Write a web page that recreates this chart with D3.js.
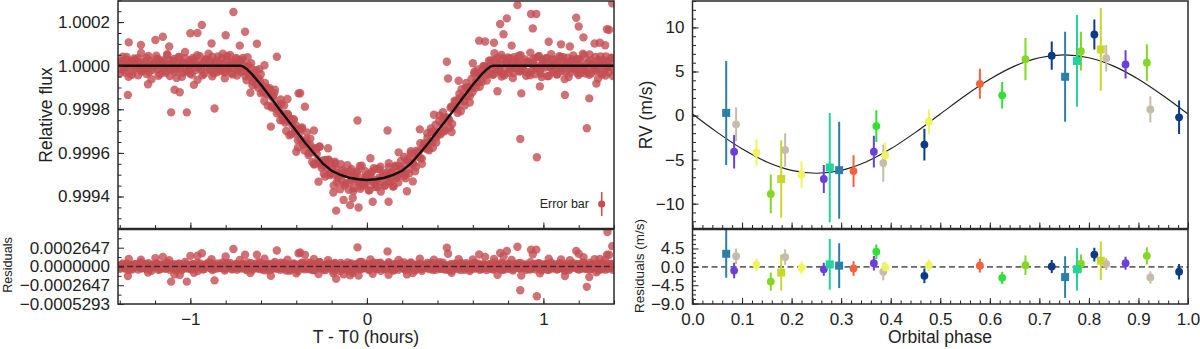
<!DOCTYPE html>
<html>
<head>
<meta charset="utf-8">
<script src="https://cdn.jsdelivr.net/npm/d3@7"></script>
<style>
  body { margin: 0; background: #fff; }
  svg { display: block; font-family: "Liberation Sans", Arial, sans-serif; }
</style>
</head>
<body>
<script>
// ---- transit light curve (time in hours from T0, residuals in ppm) ----
let lcTime = [
  -1.405,-1.398,-1.389,-1.383,-1.375,-1.365,-1.358,-1.350,-1.344,-1.335,
  -1.327,-1.318,-1.312,-1.303,-1.296,-1.289,-1.279,-1.273,-1.264,-1.256,
  -1.249,-1.243,-1.235,-1.226,-1.220,-1.210,-1.204,-1.193,-1.187,-1.180,
  -1.171,-1.164,-1.155,-1.149,-1.141,-1.131,-1.124,-1.116,-1.110,-1.101,
  -1.093,-1.084,-1.078,-1.069,-1.062,-1.055,-1.045,-1.039,-1.030,-1.022,
  -1.015,-1.009,-1.001,-0.992,-0.986,-0.976,-0.970,-0.959,-0.953,-0.946,
  -0.937,-0.930,-0.921,-0.915,-0.907,-0.897,-0.890,-0.882,-0.876,-0.867,
  -0.859,-0.850,-0.844,-0.835,-0.828,-0.821,-0.811,-0.805,-0.796,-0.788,
  -0.781,-0.775,-0.767,-0.758,-0.752,-0.742,-0.736,-0.725,-0.719,-0.712,
  -0.703,-0.696,-0.687,-0.681,-0.673,-0.663,-0.656,-0.648,-0.642,-0.633,
  -0.625,-0.616,-0.610,-0.601,-0.594,-0.587,-0.577,-0.571,-0.562,-0.554,
  -0.547,-0.541,-0.533,-0.524,-0.518,-0.508,-0.502,-0.491,-0.485,-0.478,
  -0.469,-0.462,-0.453,-0.447,-0.439,-0.429,-0.422,-0.414,-0.408,-0.399,
  -0.391,-0.382,-0.376,-0.367,-0.360,-0.353,-0.343,-0.337,-0.328,-0.320,
  -0.313,-0.307,-0.299,-0.290,-0.284,-0.274,-0.268,-0.257,-0.251,-0.244,
  -0.235,-0.228,-0.219,-0.213,-0.205,-0.195,-0.188,-0.180,-0.174,-0.165,
  -0.157,-0.148,-0.142,-0.133,-0.126,-0.119,-0.109,-0.103,-0.094,-0.086,
  -0.079,-0.073,-0.065,-0.056,-0.050,-0.040,-0.034,-0.023,-0.017,-0.010,
  -0.001,0.006,0.015,0.021,0.029,0.039,0.046,0.054,0.060,0.069,
  0.077,0.086,0.092,0.101,0.108,0.115,0.125,0.131,0.140,0.148,
  0.155,0.161,0.169,0.178,0.184,0.194,0.200,0.211,0.217,0.224,
  0.233,0.240,0.249,0.255,0.263,0.273,0.280,0.288,0.294,0.303,
  0.311,0.320,0.326,0.335,0.342,0.349,0.359,0.365,0.374,0.382,
  0.389,0.395,0.403,0.412,0.418,0.428,0.434,0.445,0.451,0.458,
  0.467,0.474,0.483,0.489,0.497,0.507,0.514,0.522,0.528,0.537,
  0.545,0.554,0.560,0.569,0.576,0.583,0.593,0.599,0.608,0.616,
  0.623,0.629,0.637,0.646,0.652,0.662,0.668,0.679,0.685,0.692,
  0.701,0.708,0.717,0.723,0.731,0.741,0.748,0.756,0.762,0.771,
  0.779,0.788,0.794,0.803,0.810,0.817,0.827,0.833,0.842,0.850,
  0.857,0.863,0.871,0.880,0.886,0.896,0.902,0.913,0.919,0.926,
  0.935,0.942,0.951,0.957,0.965,0.975,0.982,0.990,0.996,1.005,
  1.013,1.022,1.028,1.037,1.044,1.051,1.061,1.067,1.076,1.084,
  1.091,1.097,1.105,1.114,1.120,1.130,1.136,1.147,1.153,1.160,
  1.169,1.176,1.185,1.191,1.199,1.209,1.216,1.224,1.230,1.239,
  1.247,1.256,1.262,1.271,1.278,1.285,1.295,1.301,1.310,1.318,
  1.325,1.331,1.339,1.348,1.354,1.364,1.370,1.381,1.387,1.394
]
let lcResid = [
  12,-34,5,41,-18,-3,27,-51,8,19,  -26,33,-9,2,-44,15,58,-21,4,-13,
  37,-7,-29,22,-62,10,-1,46,-16,29,  -38,6,17,-24,3,52,-11,-47,24,-5,
  31,-19,-56,9,40,-2,-33,14,63,-27,  7,-12,25,-41,36,-8,18,-65,1,44,
  -20,11,-37,28,-4,55,-15,21,-49,3,  16,-30,42,-6,-23,34,9,-58,26,-14,
  -1,49,-35,13,-10,30,-45,6,20,-28,  39,-17,2,-52,23,-7,47,-31,11,-3,
  -24,14,61,-40,5,-16,32,-9,-55,27,  8,-36,19,43,-21,-2,15,-46,35,-11,
  45,-26,-6,24,-60,17,3,38,-19,10,  -32,28,-13,52,-4,-39,21,7,-25,48,
  -8,16,-50,33,12,-22,59,-15,1,-43,  26,-5,37,-29,-12,9,-63,41,18,-20,
  -3,50,-27,6,-41,22,14,-56,31,-9,  19,-44,3,29,-14,62,-31,8,-18,39,
  -11,25,-48,15,36,-6,-23,47,-37,4,  54,-16,9,-34,20,-1,42,-28,13,-53,
  -7,35,-21,-45,27,11,-10,56,-30,17,  23,-39,46,2,-17,-58,30,-4,14,-25,
  -35,8,21,-13,51,-27,-2,33,-49,16,  41,-22,-8,59,-33,5,24,-42,10,-15,
  -19,30,-54,12,38,-11,-37,20,3,47,  6,-47,28,-20,15,-64,34,-7,44,-29,
  -14,43,-24,1,-36,26,18,-51,9,32,  28,-9,-41,57,-18,13,-28,4,49,-38,
  -44,20,11,-32,34,-5,-57,39,-12,22,  13,-27,48,-16,-3,29,-46,17,-34,60,
  -22,7,-39,36,-10,45,-19,-52,25,-1,  33,-48,15,-7,53,-30,2,27,-40,11,
  -5,40,-25,18,-61,9,37,-14,-31,21,  47,-12,-3,31,-43,24,-20,55,-8,-36,
  -28,16,52,-35,6,-9,40,-23,-59,14,  10,-41,26,-17,43,-4,-30,19,36,-47
]
// a second visit, interleaved in time
let lcTime2 = [
  -1.401,-1.390,-1.381,-1.369,-1.361,-1.351,-1.340,-1.331,-1.321,-1.310,
  -1.297,-1.288,-1.276,-1.268,-1.257,-1.248,-1.237,-1.229,-1.216,-1.207,
  -1.201,-1.190,-1.181,-1.169,-1.161,-1.151,-1.140,-1.131,-1.121,-1.110,
  -1.097,-1.088,-1.076,-1.068,-1.057,-1.048,-1.037,-1.029,-1.016,-1.007,
  -1.001,-0.990,-0.981,-0.969,-0.961,-0.951,-0.940,-0.931,-0.921,-0.910,
  -0.897,-0.888,-0.876,-0.868,-0.857,-0.848,-0.837,-0.829,-0.816,-0.807,
  -0.801,-0.790,-0.781,-0.769,-0.761,-0.751,-0.740,-0.731,-0.721,-0.710,
  -0.697,-0.688,-0.676,-0.668,-0.657,-0.648,-0.637,-0.629,-0.616,-0.607,
  -0.601,-0.590,-0.581,-0.569,-0.561,-0.551,-0.540,-0.531,-0.521,-0.510,
  -0.497,-0.488,-0.476,-0.468,-0.457,-0.448,-0.437,-0.429,-0.416,-0.407,
  -0.401,-0.390,-0.381,-0.369,-0.361,-0.351,-0.340,-0.331,-0.321,-0.310,
  -0.297,-0.288,-0.276,-0.268,-0.257,-0.248,-0.237,-0.229,-0.216,-0.207,
  -0.201,-0.190,-0.181,-0.169,-0.161,-0.151,-0.140,-0.131,-0.121,-0.110,
  -0.097,-0.088,-0.076,-0.068,-0.057,-0.048,-0.037,-0.029,-0.016,-0.007,
  -0.001,0.010,0.019,0.031,0.039,0.049,0.060,0.069,0.079,0.090,
  0.103,0.112,0.124,0.132,0.143,0.152,0.163,0.171,0.184,0.193,
  0.199,0.210,0.219,0.231,0.239,0.249,0.260,0.269,0.279,0.290,
  0.303,0.312,0.324,0.332,0.343,0.352,0.363,0.371,0.384,0.393,
  0.399,0.410,0.419,0.431,0.439,0.449,0.460,0.469,0.479,0.490,
  0.503,0.512,0.524,0.532,0.543,0.552,0.563,0.571,0.584,0.593,
  0.599,0.610,0.619,0.631,0.639,0.649,0.660,0.669,0.679,0.690,
  0.703,0.712,0.724,0.732,0.743,0.752,0.763,0.771,0.784,0.793,
  0.799,0.810,0.819,0.831,0.839,0.849,0.860,0.869,0.879,0.890,
  0.903,0.912,0.924,0.932,0.943,0.952,0.963,0.971,0.984,0.993,
  0.999,1.010,1.019,1.031,1.039,1.049,1.060,1.069,1.079,1.090,
  1.103,1.112,1.124,1.132,1.143,1.152,1.163,1.171,1.184,1.193,
  1.199,1.210,1.219,1.231,1.239,1.249,1.260,1.269,1.279,1.290,
  1.303,1.312,1.324,1.332,1.343,1.352,1.363,1.371,1.384,1.393
]
let lcResid2 = [
  -15,22,8,-31,40,-6,17,-42,3,28,  34,-11,-27,6,19,-38,45,-2,-20,11,
  -4,31,-46,14,-9,25,-33,50,7,-18,  21,-29,2,39,-14,-51,12,33,-24,-1,
  -36,9,27,-19,48,-7,-3,-44,18,30,  13,-22,41,-35,-5,23,-16,7,55,-30,
  -26,44,-8,16,-40,3,35,-21,-12,26,  9,-37,58,-17,24,-48,-6,39,-29,14,
  47,-23,-55,20,-2,36,-41,11,62,-34,  -12,53,-30,8,-59,29,16,-44,38,-7,
  25,-64,12,44,-21,-3,57,-38,19,-50,  -45,30,-9,61,-27,15,-52,6,40,-18,
  33,-14,49,-40,2,-66,24,18,-31,55,  -20,42,-57,10,35,-8,-43,63,-25,5,
  16,-48,28,-11,52,-35,-4,45,-60,21,  -38,9,60,-26,14,-53,37,-15,-2,48,
  7,-31,-47,32,-19,56,-9,23,-42,12,  43,-60,18,-5,29,-37,51,-22,8,-45,
  -16,36,-28,54,-41,11,-3,-56,30,19,  27,-12,40,-49,6,-24,47,13,-35,-8,
  -33,50,-2,22,-46,17,31,-19,4,-27,  12,-41,26,-7,37,-22,-50,34,-13,20,
  38,-17,5,-33,24,-3,46,-25,-10,15,  -29,18,-44,10,31,-13,-2,41,-36,6,
  22,-8,35,-47,-1,27,-20,9,-39,44,  -11,39,-24,16,-52,4,29,-15,21,-32,
  30,-35,-6,48,-17,13,-42,25,2,-21,  -7,26,43,-28,9,-45,19,-3,37,-14
]
// scattered points away from the main band
let lcOutTime = [
  -0.756,-0.935,-0.690,-1.000,-0.960,-1.156,-1.198,-1.349,-0.800,-0.623,
  -1.354,-1.109,-1.020,-0.863,-1.090,-1.060,-0.387,-0.544,-0.510,0.853,
  1.390,0.930,0.960,0.793,0.755,0.774,0.940,1.186,1.200,1.227,
  1.360,1.372,0.636,0.670,1.320,0.453,0.460,-0.053,0.117,-0.351,
  -0.378,0.869,0.963,1.246,1.122,1.260,0.875,0.740,-0.174,-0.190,
  -0.047,0.033,0.123,0.227,-0.132,-0.095,-0.274,1.363,
  -1.280,-1.120,-0.880,-0.720,-0.580,-0.450,-0.300,-0.220,0.020,0.180,
  0.300,0.380,0.520,0.600,0.720,0.820,1.030,1.100,1.150,1.290,
  1.350,-1.240,-0.980,-0.660,-0.400,-0.080,0.260,0.480,0.980,1.300
]
let lcOutResid = [
  246,187,166,149,150,133,118,107,140,166,
  -134,-214,-214,-196,-110,-122,187,-133,225,278,
  286,237,237,217,191,144,171,220,180,130,
  167,165,168,135,105,263,179,269,212,164,
  197,-336,-420,-287,-134,-150,-127,-117,-173,-96,
  -129,-102,-116,-112,-110,-125,-106,485,
  95,88,102,92,110,95,105,90,98,92,
  110,96,104,98,105,92,110,98,88,102,
  94,-85,-88,-92,-95,-90,-92,-88,-95,-82
]
// transit model (black line), ppm below 1
let modelTime = [-1.41,-0.715,-0.70,-0.68,-0.65,-0.60,-0.55,-0.50,-0.45,-0.40,-0.35,-0.30,-0.25,-0.20,-0.15,-0.10,-0.05,0,
  0.05,0.10,0.15,0.20,0.25,0.30,0.35,0.40,0.45,0.50,0.55,0.60,0.65,0.68,0.70,0.715,1.41]
let modelPpm = [0,0,-4,-16,-40,-87,-140,-195,-248,-300,-353,-402,-448,-482,-501,-514,-521,-524,
  -521,-514,-501,-482,-448,-402,-353,-300,-248,-195,-140,-87,-40,-16,-4,0,0]

// ---- radial velocities ----
let rvPhase = [0.068,0.084,0.088,0.129,0.158,0.179,0.187,0.220,0.265,0.277,0.296,0.325,0.366,0.371,0.385,0.389,
  0.468,0.477,0.580,0.625,0.672,0.725,0.752,0.776,0.784,0.811,0.824,0.835,0.874,0.917,0.924,0.982]
let rvValue = [0.3,-4.1,-1.0,-4.2,-8.9,-7.2,-3.9,-6.7,-7.2,-5.9,-6.2,-6.3,-4.1,-1.2,-5.4,-4.5,
  -3.3,-0.7,3.6,2.3,6.4,6.8,4.4,6.2,7.3,9.2,7.5,6.5,5.8,6.0,0.7,-0.2]
let rvError = [5.9,1.9,1.9,1.5,2.2,4.4,1.9,1.5,1.6,6.2,5.5,1.8,1.8,1.8,2.1,1.4,
  1.8,1.4,1.7,1.5,2.4,1.6,5.1,5.2,2.2,1.7,4.7,1.5,1.6,2.1,1.5,1.9]
let rvResid = [3.2,-0.9,2.6,0.5,-3.6,-1.4,2.4,-0.2,-0.6,0.6,0.3,-0.4,0.9,3.7,-1.2,-0.1,
  -2.2,0.4,0.3,-2.7,0.4,0.1,-2.5,-0.6,0.8,3.0,1.5,0.7,0.9,2.7,-2.6,-1.2]
let rvInst = ['blueSq','purple','beige','yellow','lime','oliveSq','beige','yellow','purple','tealSq','blueSq','orange','purple','green','beige','yellow',
  'navy','yellow','orange','green','lime','navy','blueSq','tealSq','lime','navy','oliveSq','beige','purple','lime','beige','navy']
let rvModelPhase = [0,0.05,0.1,0.15,0.2,0.25,0.3,0.35,0.4,0.45,0.5,0.55,0.6,0.65,0.7,0.75,0.8,0.85,0.9,0.95,1]
let rvModelValue = [0.17,-1.91,-3.78,-5.27,-6.22,-6.55,-6.22,-5.27,-3.78,-1.91,0.17,2.25,4.12,5.61,6.56,6.89,6.56,5.61,4.12,2.25,0.17]

// ---- tick labels ----
let fluxTicks = [0.9994, 0.9996, 0.9998, 1.0000, 1.0002]
let lcResidTicks = [0.0002647, 0, -0.0002647, -0.0005293]
let timeTicks = [-1, 0, 1]
let rvTicks = [-10, -5, 0, 5, 10]
let rvResidTicks = [4.5, 0, -4.5, -9.0]
let phaseTicks = [0, 0.1, 0.2, 0.3, 0.4, 0.5, 0.6, 0.7, 0.8, 0.9, 1.0]

let instStyle = {
  blueSq: { color: '#2b80a8', square: true },
  tealSq: { color: '#22d39b', square: true },
  oliveSq: { color: '#c9d62c', square: true },
  purple: { color: '#6b3fd9' },
  beige: { color: '#c6bcac' },
  yellow: { color: '#eef45c' },
  lime: { color: '#82d824' },
  green: { color: '#33e035' },
  orange: { color: '#f2623f' },
  navy: { color: '#0c3c86' }
}

let W = 1200, H = 349
let svg = d3.select('body').append('svg').attr('width', W).attr('height', H)

let L = { x0: 118, x1: 614 }, R = { x0: 692.5, x1: 1188 }
let top0 = 1, top1 = 228.5, bot0 = 229.5, bot1 = 304

let xL = d3.scaleLinear().domain([-1.41, 1.40]).range([L.x0, L.x1])
let yL = d3.scaleLinear().domain([0.9992532, 1.0002968]).range([top1, top0])
let yLr = d3.scaleLinear().domain([-0.000529, 0.000521]).range([bot1, bot0])
let xR = d3.scaleLinear().domain([0, 1]).range([R.x0, R.x1])
let yR = d3.scaleLinear().domain([-12.82, 13.0]).range([top1, top0])
let yRr = d3.scaleLinear().domain([-9.1, 9.15]).range([bot1, bot0])

let model = d3.scaleLinear().domain(modelTime).range(modelPpm)
let lc = lcTime.map((t, i) => ({ t, r: lcResid[i] }))
  .concat(lcTime2.map((t, i) => ({ t, r: lcResid2[i] })))
  .concat(lcOutTime.map((t, i) => ({ t, r: lcOutResid[i] })))
lc.forEach(d => { d.flux = 1 + (model(d.t) + d.r) * 1e-6 })

let red = '#c44e52'
let ink = '#222'

let panel = (x0, x1, y0, y1, id) => {
  svg.append('clipPath').attr('id', id).append('rect')
    .attr('x', x0).attr('y', y0).attr('width', x1 - x0).attr('height', y1 - y0)
  return svg.append('g').attr('clip-path', `url(#${id})`)
}

let styleAxis = (g, size) => {
  g.select('.domain').remove()
  g.attr('color', ink).attr('font-family', null).attr('font-size', size)
  g.selectAll('.tick line').attr('stroke-width', 1)
}

let leftAxis = (y, x0, major, minor, fmt, size) => {
  svg.append('g').attr('transform', `translate(${x0},0)`)
    .call(d3.axisLeft(y).tickValues(minor).tickSizeInner(-3.5).tickSizeOuter(0).tickFormat(''))
    .call(g => styleAxis(g, size))
  svg.append('g').attr('transform', `translate(${x0},0)`)
    .call(d3.axisLeft(y).tickValues(major).tickSizeInner(-6).tickSizeOuter(0).tickPadding(8).tickFormat(fmt))
    .call(g => styleAxis(g, size))
}
let bottomAxis = (x, y0, major, minor, fmt, size) => {
  svg.append('g').attr('transform', `translate(0,${y0})`)
    .call(d3.axisBottom(x).tickValues(minor).tickSizeInner(-3.5).tickSizeOuter(0).tickFormat(''))
    .call(g => styleAxis(g, size))
  svg.append('g').attr('transform', `translate(0,${y0})`)
    .call(d3.axisBottom(x).tickValues(major).tickSizeInner(-6).tickSizeOuter(0).tickPadding(fmt ? 9 : 0).tickFormat(fmt || ''))
    .call(g => styleAxis(g, size))
}

// ---------- left: light curve ----------
let gL = panel(L.x0, L.x1, top0, top1, 'clipL')
gL.selectAll('circle').data(lc).enter().append('circle')
  .attr('cx', d => xL(d.t)).attr('cy', d => yL(d.flux)).attr('r', 4.2)
  .attr('fill', red).attr('fill-opacity', 0.8)
gL.append('path').datum(modelTime)
  .attr('d', d3.line().x(t => xL(t)).y((t, i) => yL(1 + modelPpm[i] * 1e-6)))
  .attr('fill', 'none').attr('stroke', '#111').attr('stroke-width', 2.4)

// legend
svg.append('text').attr('x', 589).attr('y', 208).attr('text-anchor', 'end')
  .attr('font-size', 12.5).attr('fill', ink).text('Error bar')
svg.append('line').attr('x1', 601.7).attr('x2', 601.7).attr('y1', 192).attr('y2', 216)
  .attr('stroke', red).attr('stroke-width', 1.6)
svg.append('circle').attr('cx', 601.7).attr('cy', 204).attr('r', 3.6).attr('fill', red)

let gLr = panel(L.x0, L.x1, bot0, bot1, 'clipLr')
gLr.selectAll('circle').data(lc).enter().append('circle')
  .attr('cx', d => xL(d.t)).attr('cy', d => yLr(d.r * 1e-6)).attr('r', 4.2)
  .attr('fill', red).attr('fill-opacity', 0.8)
gLr.append('line').attr('x1', L.x0).attr('x2', L.x1).attr('y1', yLr(0)).attr('y2', yLr(0))
  .attr('stroke', '#333').attr('stroke-width', 1.6).attr('stroke-dasharray', '6,3')

let fluxMinor = d3.range(0.99930, 1.00030, 0.00005)
leftAxis(yL, L.x0, fluxTicks, fluxMinor, d3.format('.4f'), 17)
leftAxis(yLr, L.x0, lcResidTicks, [0.00039705, 0.00013235, -0.00013235, -0.00039705], d3.format('.7f'), 17)
let timeMinor = d3.range(-1.4, 1.41, 0.2)
bottomAxis(xL, top1, timeTicks, timeMinor, null, 17)
bottomAxis(xL, bot1, timeTicks, timeMinor, d3.format('d'), 17)

// ---------- right: radial velocities ----------
let drawRV = (g, y, vals) => {
  let pts = rvPhase.map((p, i) => ({ p, v: vals[i], e: rvError[i], s: instStyle[rvInst[i]] }))
  g.selectAll('line.err').data(pts).enter().append('line').attr('class', 'err')
    .attr('x1', d => xR(d.p)).attr('x2', d => xR(d.p))
    .attr('y1', d => y(d.v - d.e)).attr('y2', d => y(d.v + d.e))
    .attr('stroke', d => d.s.color).attr('stroke-width', 2)
  g.selectAll('circle.pt').data(pts.filter(d => !d.s.square)).enter().append('circle').attr('class', 'pt')
    .attr('cx', d => xR(d.p)).attr('cy', d => y(d.v)).attr('r', 3.9).attr('fill', d => d.s.color)
  g.selectAll('rect.pt').data(pts.filter(d => d.s.square)).enter().append('rect').attr('class', 'pt')
    .attr('x', d => xR(d.p) - 4).attr('y', d => y(d.v) - 4).attr('width', 8).attr('height', 8)
    .attr('fill', d => d.s.color)
}

let gR = panel(R.x0, R.x1, top0, top1, 'clipR')
gR.append('path').datum(rvModelPhase)
  .attr('d', d3.line().curve(d3.curveCatmullRom).x(p => xR(p)).y((p, i) => yR(rvModelValue[i])))
  .attr('fill', 'none').attr('stroke', '#222').attr('stroke-width', 1.2)
drawRV(gR, yR, rvValue)

let gRr = panel(R.x0, R.x1, bot0, bot1, 'clipRr')
gRr.append('line').attr('x1', R.x0).attr('x2', R.x1).attr('y1', yRr(0)).attr('y2', yRr(0))
  .attr('stroke', '#666').attr('stroke-width', 1.6).attr('stroke-dasharray', '6,3.5')
drawRV(gRr, yRr, rvResid)

leftAxis(yR, R.x0, rvTicks, d3.range(-12, 13.5, 1), d3.format('d'), 17)
leftAxis(yRr, R.x0, rvResidTicks, [7.875, 6.75, 5.625, 3.375, 2.25, 1.125, -1.125, -2.25, -3.375, -5.625, -6.75, -7.875], d3.format('.1f'), 17)
let phaseMinor = d3.range(0, 1.001, 0.02)
bottomAxis(xR, top1, phaseTicks, phaseMinor, null, 17)
bottomAxis(xR, bot1, phaseTicks, phaseMinor, d3.format('.1f'), 17)

// frames
;[[L, top0, top1], [L, bot0, bot1], [R, top0, top1], [R, bot0, bot1]].forEach(([p, a, b]) => {
  svg.append('rect').attr('x', p.x0).attr('y', a).attr('width', p.x1 - p.x0).attr('height', b - a)
    .attr('fill', 'none').attr('stroke', '#2a2a2a').attr('stroke-width', 1.5)
})

// axis titles
let label = (x, y, txt, size, rot) => svg.append('text')
  .attr('transform', `translate(${x},${y})` + (rot ? ' rotate(-90)' : ''))
  .attr('text-anchor', 'middle').attr('font-size', size).attr('fill', ink).text(txt)
label(52, 115, 'Relative flux', 17.5, true)
label(12, 265, 'Residuals', 12.7, true)
label(366, 343, 'T - T0 (hours)', 17.5)
label(652, 115, 'RV (m/s)', 17.5, true)
label(644, 266, 'Residuals (m/s)', 13.5, true)
label(940, 343, 'Orbital phase', 17.5)
</script>
</body>
</html>
